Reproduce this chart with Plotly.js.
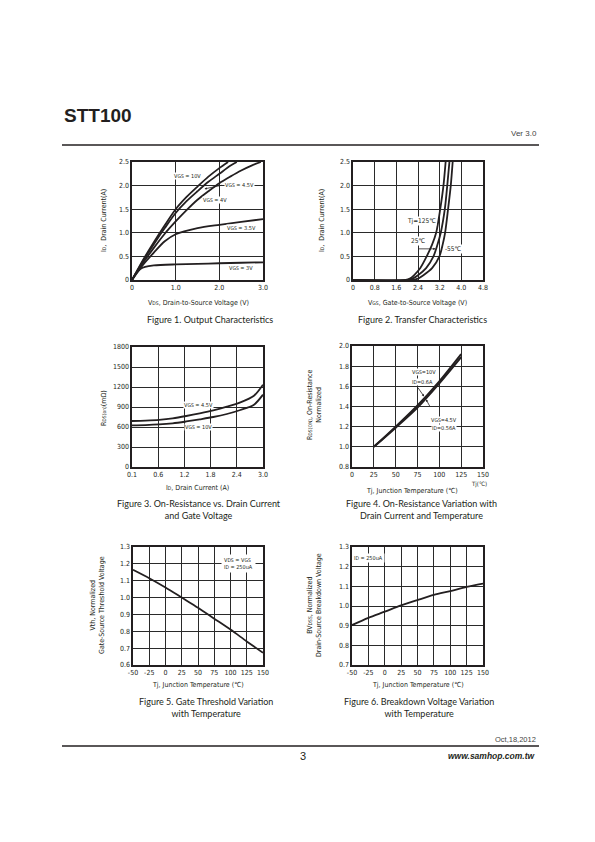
<!DOCTYPE html>
<html><head><meta charset="utf-8">
<script src="https://cdn.plot.ly/plotly-3.0.1.min.js"></script>
<style>html,body{margin:0;padding:0;background:#fff}#p{width:595px;height:842px}</style>
</head><body><div id="p"></div>
<script>
// ---------- Figure 1: Output characteristics ----------
const f1_vds_10 = [0,0.25,0.5,0.75,1.0,1.25,1.5,1.75,2.0,2.2];
const f1_id_10  = [0,0.42,0.80,1.16,1.50,1.76,1.98,2.19,2.37,2.5];
const f1_vds_45 = [0,0.25,0.5,0.75,1.0,1.25,1.5,1.75,2.0,2.25,2.4];
const f1_id_45  = [0,0.40,0.76,1.10,1.42,1.67,1.88,2.08,2.25,2.42,2.5];
const f1_vds_4  = [0,0.25,0.5,0.75,1.0,1.25,1.5,1.75,2.0,2.25,2.5,2.75,2.95];
const f1_id_4   = [0,0.36,0.68,0.98,1.24,1.48,1.70,1.88,2.05,2.19,2.32,2.43,2.5];
const f1_vds_35 = [0,0.25,0.5,0.75,1.0,1.5,2.0,2.5,3.0];
const f1_id_35  = [0,0.32,0.58,0.82,0.97,1.10,1.17,1.23,1.29];
const f1_vds_3  = [0,0.1,0.2,0.3,0.5,1.0,1.5,2.0,2.5,3.0];
const f1_id_3   = [0,0.15,0.24,0.28,0.31,0.33,0.34,0.355,0.365,0.375];
const f1_xticks = [0,1.0,2.0,3.0];
const f1_xtext  = ['0','1.0','2.0','3.0'];
const f1_yticks = [0,0.5,1.0,1.5,2.0,2.5];
const f1_ytext  = ['0','0.5','1.0','1.5','2.0','2.5'];

// ---------- Figure 2: Transfer characteristics ----------
const f2_id      = [0,0,0.03,0.1,0.25,0.5,0.75,1.0,1.5,2.0,2.5];
const f2_vgs_125 = [0,1.95,2.1,2.25,2.48,2.72,2.92,3.07,3.22,3.34,3.42];
const f2_vgs_25  = [0,2.05,2.2,2.4,2.7,2.97,3.12,3.24,3.39,3.48,3.56];
const f2_vgs_m55 = [0,2.2,2.4,2.6,2.92,3.19,3.31,3.40,3.51,3.61,3.68];
const f2_xticks = [0,0.8,1.6,2.4,3.2,4.0,4.8];
const f2_xtext  = ['0','0.8','1.6','2.4','3.2','4.0','4.8'];

// ---------- Figure 3: On-resistance vs drain current ----------
const f3_id   = [0.1,0.4,0.7,1.0,1.3,1.6,1.9,2.2,2.5,2.8,3.0];
const f3_r45  = [690,697,708,730,765,805,850,905,970,1070,1235];
const f3_r10  = [625,629,638,655,683,715,750,795,855,935,1085];
const f3_xticks = [0.1,0.68,1.26,1.84,2.42,3.0];
const f3_xtext  = ['0.1','0.6','1.2','1.8','2.4','3.0'];
const f3_yticks = [0,300,600,900,1200,1500,1800];

// ---------- Figure 4: On-resistance vs temperature ----------
const f4_tj   = [25,50,75,100,125];
const f4_r10  = [1.0,1.20,1.41,1.65,1.92];
const f4_r45  = [1.0,1.19,1.39,1.63,1.89];
const f4_xticks = [0,25,50,75,100,125,150];
const f4_yticks = [0.8,1.0,1.2,1.4,1.6,1.8,2.0];
const f4_ytext  = ['0.8','1.0','1.2','1.4','1.6','1.8','2.0'];

// ---------- Figure 5: Gate threshold vs temperature ----------
const f5_tj  = [-50,-25,0,25,50,75,100,125,150];
const f5_vth = [1.165,1.115,1.06,1.0,0.94,0.875,0.81,0.74,0.672];
const f5_yticks = [0.6,0.7,0.8,0.9,1.0,1.1,1.2,1.3];
const f5_ytext  = ['0.6','0.7','0.8','0.9','1.0','1.1','1.2','1.3'];

// ---------- Figure 6: Breakdown voltage vs temperature ----------
const f6_tj = [-50,-25,0,25,50,75,100,125,150];
const f6_bv = [0.903,0.94,0.971,1.003,1.03,1.056,1.076,1.097,1.114];
const f6_yticks = [0.7,0.8,0.9,1.0,1.1,1.2,1.3];
const f6_ytext  = ['0.7','0.8','0.9','1.0','1.1','1.2','1.3'];
const tj_ticks = [-50,-25,0,25,50,75,100,125,150];

// ---------- page layout helpers ----------
const W = 595, H = 842;
const PX = v => v / W;
const PY = v => 1 - v / H;
const NARROW = 'Liberation Sans Narrow, DejaVu Sans Condensed, Arial Narrow, sans-serif';
const CAP = 'Lato, Open Sans, sans-serif';
const HEAD = 'Liberation Sans, Arial, sans-serif';
const INK = '#231f20';

function ax(x0, x1, range, tickvals, ticktext) {
  return {
    domain: [PX(x0), PX(x1)], range: range, tickmode: 'array', tickvals: tickvals,
    ticktext: ticktext || tickvals.map(String),
    showgrid: true, gridcolor: '#2a2a2a', gridwidth: 1, zeroline: false,
    showline: true, mirror: true, linecolor: INK, linewidth: 1.6,
    ticks: '', tickfont: {family: NARROW, size: 7, color: INK}, fixedrange: true
  };
}
function ay(y0, y1, range, tickvals, ticktext) {
  const a = ax(0, 1, range, tickvals, ticktext);
  a.domain = [PY(y1), PY(y0)];
  return a;
}
function line(x, y, xa, ya, w) {
  return {x: x, y: y, xaxis: xa, yaxis: ya, type: 'scatter', mode: 'lines',
          line: {color: INK, width: w || 1.8, shape: 'spline', smoothing: 0.8},
          hoverinfo: 'skip', showlegend: false};
}

const traces = [
  line(f1_vds_10, f1_id_10, 'x', 'y'),
  line(f1_vds_45, f1_id_45, 'x', 'y'),
  line(f1_vds_4,  f1_id_4,  'x', 'y'),
  line(f1_vds_35, f1_id_35, 'x', 'y'),
  line(f1_vds_3,  f1_id_3,  'x', 'y'),
  line(f2_vgs_125, f2_id, 'x2', 'y2'),
  line(f2_vgs_25,  f2_id, 'x2', 'y2'),
  line(f2_vgs_m55, f2_id, 'x2', 'y2'),
  line(f3_id, f3_r45, 'x3', 'y3'),
  line(f3_id, f3_r10, 'x3', 'y3'),
  line(f4_tj, f4_r10, 'x4', 'y4', 2.0),
  line(f4_tj, f4_r45, 'x4', 'y4', 2.0),
  line(f5_tj, f5_vth, 'x5', 'y5'),
  line(f6_tj, f6_bv, 'x6', 'y6')
];

function pa(text, x, y, opt) {
  return Object.assign({text: text, xref: 'paper', yref: 'paper', x: PX(x), y: PY(y),
    showarrow: false, xanchor: 'center', yanchor: 'middle',
    font: {family: NARROW, size: 7, color: INK}}, opt || {});
}
function da(text, xr, yr, x, y, opt) {
  return Object.assign({text: text, xref: xr, yref: yr, x: x, y: y, showarrow: false,
    xanchor: 'center', yanchor: 'middle', bgcolor: '#ffffff', borderpad: 0,
    font: {family: NARROW, size: 5.5, color: INK}}, opt || {});
}
function arrow(xr, yr, x, y, tx, ty) {
  return {text: ' ', xref: xr, yref: yr, x: x, y: y, axref: xr, ayref: yr, ax: tx, ay: ty,
    showarrow: true, arrowhead: 2, arrowsize: 0.6, arrowwidth: 0.8, arrowcolor: INK, standoff: 0, startstandoff: 0};
}
const cap = {family: CAP, size: 9, color: INK};
const sub = s => '<span style="font-size:5px">' + s + '</span>';

const annotations = [
  // header / footer
  pa('<b>STT100</b>', 62, 115, {xanchor: 'left', font: {family: HEAD, size: 19, color: INK}}),
  pa('Ver 3.0', 539, 134, {xanchor: 'right', font: {family: HEAD, size: 8, color: '#444'}}),
  pa('Oct,18,2012', 538, 739, {xanchor: 'right', font: {family: HEAD, size: 7.5, color: '#444'}}),
  pa('3', 303, 756, {font: {family: HEAD, size: 11, color: INK}}),
  pa('<b><i>www.samhop.com.tw</i></b>', 538, 756, {xanchor: 'right', font: {family: HEAD, size: 8.5, color: INK}}),

  // figure 1
  pa('I' + sub('D') + ',  Drain Current(A)', 104, 221, {textangle: -90}),
  pa('V' + sub('DS') + ', Drain-to-Source Voltage (V)', 198, 303),
  pa('Figure 1. Output Characteristics', 210, 319, {font: cap}),
  da('V' + sub('GS') + ' = 10V', 'x', 'y', 1.26, 2.21),
  da('V' + sub('GS') + ' = 4.5V', 'x', 'y', 2.47, 2.02),
  arrow('x', 'y', 1.66, 1.93, 2.12, 2.02),
  da('V' + sub('GS') + ' = 4V', 'x', 'y', 1.89, 1.69),
  da('V' + sub('GS') + ' = 3.5V', 'x', 'y', 2.5, 1.10),
  da('V' + sub('GS') + ' = 3V', 'x', 'y', 2.5, 0.26),

  // figure 2
  pa('I' + sub('D') + ',  Drain Current(A)', 322, 221, {textangle: -90}),
  pa('V' + sub('GS') + ', Gate-to-Source Voltage (V)', 418, 303),
  pa('Figure 2. Transfer Characteristics', 422, 320, {font: cap}),
  da('Tj=125℃', 'x2', 'y2', 2.52, 1.24, {font: {family: NARROW, size: 6.5, color: INK}}),
  da('25℃', 'x2', 'y2', 2.4, 0.82, {font: {family: NARROW, size: 6.5, color: INK}}),
  arrow('x2', 'y2', 3.05, 0.66, 2.3, 0.66),
  da('-55℃', 'x2', 'y2', 3.72, 0.66, {font: {family: NARROW, size: 6.5, color: INK}}),

  // figure 3
  pa('R' + sub('DS(on)') + '(mΩ)', 104, 408, {textangle: -90}),
  pa('I' + sub('D') + ', Drain Current (A)', 197, 488),
  pa('Figure 3. On-Resistance vs. Drain Current<br>and Gate Voltage', 199, 509, {font: cap}),
  da('V' + sub('GS') + ' = 4.5V', 'x3', 'y3', 1.57, 930),
  da('V' + sub('GS') + ' = 10V', 'x3', 'y3', 1.57, 600),

  // figure 4
  pa('R' + sub('DS(ON)') + ', On-Resistance<br>Normalized', 315, 405, {textangle: -90}),
  pa('Tj, Junction Temperature (℃)', 412, 491),
  pa('Tj(℃)', 479, 484, {font: {family: NARROW, size: 6, color: INK}}),
  pa('Figure 4. On-Resistance Variation with<br>Drain Current and Temperature', 421, 509, {font: cap}),
  da('V' + sub('GS') + '=10V', 'x4', 'y4', 82, 1.745),
  da('I' + sub('D') + '=0.6A', 'x4', 'y4', 80.5, 1.645),
  arrow('x4', 'y4', 82.5, 1.50, 72, 1.63),
  da('V' + sub('GS') + '=4.5V', 'x4', 'y4', 105, 1.27),
  da('I' + sub('D') + '=0.56A', 'x4', 'y4', 105, 1.19),
  arrow('x4', 'y4', 84.8, 1.47, 92.4, 1.35),

  // figure 5
  pa('Vth, Normalized<br>Gate-Source Threshold Voltage', 97, 605, {textangle: -90}),
  pa('Tj, Junction Temperature (℃)', 198, 685),
  pa('Figure 5. Gate Threshold Variation<br>with Temperature', 206, 707, {font: cap}),
  da('V' + sub('DS') + ' = V' + sub('GS') + '<br>I' + sub('D') + ' = 250uA', 'x5', 'y5', 113, 1.202,
     {align: 'left', borderpad: 2}),

  // figure 6
  pa('BV' + sub('DSS') + ', Normalized<br>Drain-Source Breakdown Voltage', 314, 605, {textangle: -90}),
  pa('Tj, Junction Temperature (℃)', 418, 685),
  pa('Figure 6. Breakdown Voltage Variation<br>with Temperature', 419, 707, {font: cap}),
  da('I' + sub('D') + ' = 250uA', 'x6', 'y6', -24.6, 1.246, {borderpad: 1})
];

const shapes = [
  {type: 'line', xref: 'paper', yref: 'paper', x0: PX(62), x1: PX(539), y0: PY(145), y1: PY(145), line: {color: INK, width: 1.5}},
  {type: 'line', xref: 'paper', yref: 'paper', x0: PX(62), x1: PX(539), y0: PY(746), y1: PY(746), line: {color: INK, width: 1.5}}
];

const layout = {
  width: W, height: H, margin: {l: 0, r: 0, t: 0, b: 0},
  paper_bgcolor: '#fff', plot_bgcolor: '#fff', showlegend: false,
  xaxis:  Object.assign(ax(132, 263, [0, 3], f1_xticks, f1_xtext), {anchor: 'y'}),
  yaxis:  Object.assign(ay(162, 280, [0, 2.5], f1_yticks, f1_ytext), {anchor: 'x'}),
  xaxis2: Object.assign(ax(353, 483, [0, 4.8], f2_xticks, f2_xtext), {anchor: 'y2'}),
  yaxis2: Object.assign(ay(162, 280, [0, 2.5], f1_yticks, f1_ytext), {anchor: 'x2'}),
  xaxis3: Object.assign(ax(132, 263, [0.1, 3.0], f3_xticks, f3_xtext), {anchor: 'y3'}),
  yaxis3: Object.assign(ay(347, 467, [0, 1800], f3_yticks), {anchor: 'x3'}),
  xaxis4: Object.assign(ax(352, 483, [0, 150], f4_xticks), {anchor: 'y4'}),
  yaxis4: Object.assign(ay(346, 467, [0.8, 2.0], f4_yticks, f4_ytext), {anchor: 'x4'}),
  xaxis5: Object.assign(ax(133, 263, [-50, 150], tj_ticks), {anchor: 'y5'}),
  yaxis5: Object.assign(ay(547, 665, [0.6, 1.3], f5_yticks, f5_ytext), {anchor: 'x5'}),
  xaxis6: Object.assign(ax(352, 483, [-50, 150], tj_ticks), {anchor: 'y6'}),
  yaxis6: Object.assign(ay(547, 665, [0.7, 1.3], f6_yticks, f6_ytext), {anchor: 'x6'}),
  annotations: annotations, shapes: shapes
};

Plotly.newPlot('p', traces, layout, {staticPlot: true, displayModeBar: false});
</script></body></html>
